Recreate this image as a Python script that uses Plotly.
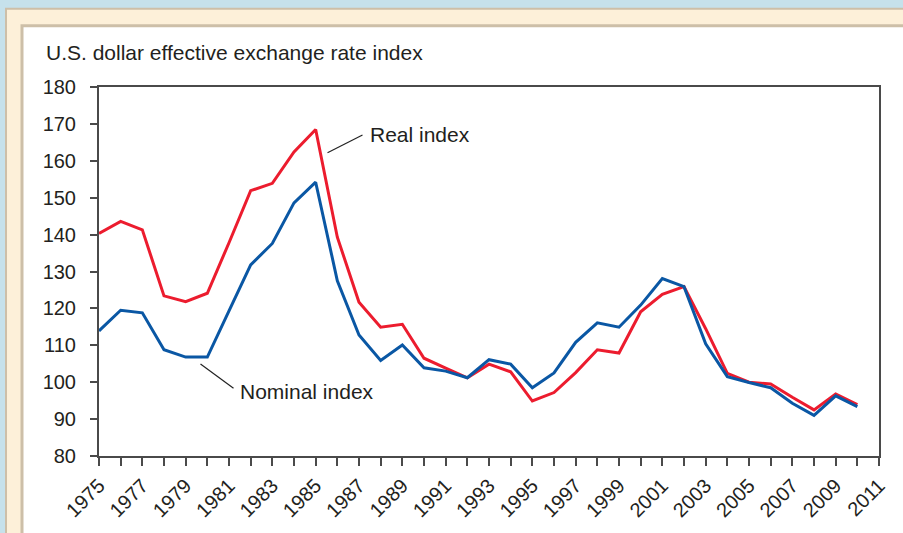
import plotly.graph_objects as go

years = list(range(1975, 2011))
real_index = [140.3, 143.6, 141.3, 123.4, 121.8, 124.1, 137.8, 151.9, 153.9, 162.4,
              168.5, 139.3, 121.7, 114.9, 115.7, 106.5, 103.8, 101.2, 104.9, 102.8,
              94.9, 97.2, 102.6, 108.8, 107.9, 119.1, 123.8, 125.9, 114.5, 102.4,
              100.0, 99.5, 95.9, 92.5, 96.8, 93.9]
nominal_index = [113.9, 119.5, 118.8, 108.8, 106.8, 106.8, 119.3, 131.8, 137.6, 148.6,
                 154.2, 127.5, 112.8, 105.9, 110.1, 103.9, 103.0, 101.2, 106.1, 104.9,
                 98.5, 102.5, 110.8, 116.1, 114.9, 120.9, 128.1, 125.9, 110.4, 101.5,
                 99.9, 98.5, 94.3, 91.0, 96.3, 93.4]
x_tick_years = list(range(1975, 2012, 2))
y_ticks = list(range(80, 181, 10))

W, H = 903, 533
L, R, T, B = 99, 879, 87, 460

def px(x):
    return (x - L) / (R - L)

def py(y):
    return (B - y) / (B - T)

FONT = "Liberation Sans, Arial, Helvetica, sans-serif"
TEXT = "#231f20"
AXIS = "#4a4a4a"

fig = go.Figure()
fig.add_trace(go.Scatter(x=years, y=real_index, mode="lines", name="Real index",
                         line=dict(color="#ec1c2e", width=3)))
fig.add_trace(go.Scatter(x=years, y=nominal_index, mode="lines", name="Nominal index",
                         line=dict(color="#0a57a4", width=3)))

shapes = [
    dict(type="rect", xref="paper", yref="paper", layer="below",
         x0=px(6), x1=px(W + 20), y0=py(8), y1=py(H + 20),
         fillcolor="#fdf0d9", line=dict(color="#cdbfa8", width=2)),
    dict(type="rect", xref="paper", yref="paper", layer="below",
         x0=px(22), x1=px(W + 20), y0=py(25), y1=py(H + 20),
         fillcolor="#ffffff", line=dict(color="#cdbfa8", width=3)),
    dict(type="line", xref="paper", yref="paper",
         x0=px(327.5), y0=py(153.5), x1=px(362.5), y1=py(135.5),
         line=dict(color="#222222", width=1.2)),
    dict(type="line", xref="paper", yref="paper",
         x0=px(200.5), y0=py(367), x1=px(233.5), y1=py(391.5),
         line=dict(color="#222222", width=1.2)),
]

annotations = [
    dict(text="U.S. dollar effective exchange rate index", xref="paper", yref="paper",
         x=px(44), y=py(52), xanchor="left", yanchor="middle", showarrow=False,
         font=dict(size=21, color=TEXT, family=FONT)),
    dict(text="Real index", xref="paper", yref="paper",
         x=px(368), y=py(135), xanchor="left", yanchor="middle", showarrow=False,
         font=dict(size=21, color=TEXT, family=FONT)),
    dict(text="Nominal index", xref="paper", yref="paper",
         x=px(238), y=py(395), xanchor="left", yanchor="middle", showarrow=False,
         font=dict(size=21, color=TEXT, family=FONT)),
]

fig.update_layout(
    width=W, height=H,
    margin=dict(l=L, r=W - R, t=T, b=H - B),
    paper_bgcolor="#c6e1eb",
    plot_bgcolor="#ffffff",
    showlegend=False,
    shapes=shapes,
    annotations=annotations,
    font=dict(family=FONT, color=TEXT),
)
fig.update_xaxes(
    range=[1975, 2011], tickmode="array", tickvals=x_tick_years,
    ticktext=[str(v) for v in x_tick_years], tickangle=-45,
    ticks="outside", ticklen=8, tickwidth=1.5, tickcolor=AXIS,
    minor=dict(dtick=1, tick0=1975, ticks="outside", ticklen=8, tickwidth=1.5,
               tickcolor=AXIS, showgrid=False),
    showline=True, linecolor=AXIS, linewidth=2, mirror=True,
    showgrid=False, zeroline=False,
    tickfont=dict(size=20, color=TEXT, family=FONT),
)
fig.update_yaxes(
    range=[80, 180], tickmode="array", tickvals=y_ticks,
    ticks="outside", ticklen=7, tickwidth=1.5, tickcolor=AXIS,
    showline=True, linecolor=AXIS, linewidth=2, mirror=True,
    showgrid=False, zeroline=False, ticklabelstandoff=10,
    tickfont=dict(size=20, color=TEXT, family=FONT),
)

fig.write_html("out.html", config={"displayModeBar": False},
               post_script="document.body.style.margin='0';document.body.style.overflow='hidden';")
